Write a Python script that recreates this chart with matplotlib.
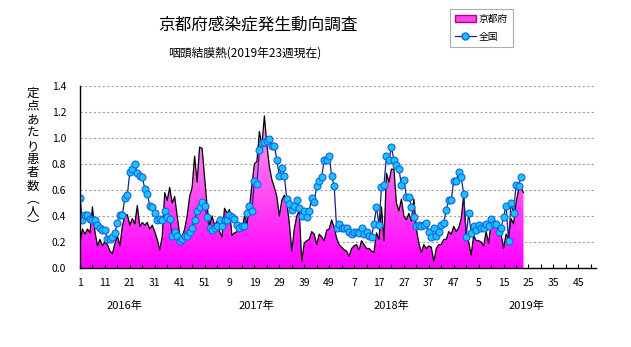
import numpy as np
import matplotlib.pyplot as plt
from matplotlib.colors import LinearSegmentedColormap
from matplotlib.lines import Line2D
from matplotlib.patches import Patch

plt.rcParams['font.family'] = ['Noto Sans CJK JP', 'DejaVu Sans']

# weekly sentinel rate (patients per sentinel), 2016 week 1 onward
kyoto = [
    # 2016
    0.20, 0.30, 0.26, 0.30, 0.27, 0.47, 0.28, 0.17, 0.22, 0.17,
    0.20, 0.18, 0.13, 0.11, 0.19, 0.25, 0.17, 0.32, 0.40, 0.41,
    0.33, 0.38, 0.34, 0.48, 0.32, 0.35, 0.33, 0.35, 0.30, 0.33,
    0.28, 0.22, 0.14, 0.24, 0.58, 0.52, 0.62, 0.50, 0.55, 0.40,
    0.26, 0.24, 0.30, 0.40, 0.55, 0.62, 0.86, 0.66, 0.93, 0.92,
    0.70, 0.48,
    # 2017
    0.32, 0.40, 0.33, 0.36, 0.28, 0.24, 0.46, 0.42, 0.45, 0.25,
    0.27, 0.28, 0.31, 0.29, 0.40, 0.34, 0.46, 0.64, 0.80, 0.82,
    1.05, 0.94, 1.17, 0.95, 0.78, 0.68, 0.62, 0.55, 0.40, 0.52,
    0.56, 0.50, 0.35, 0.13, 0.30, 0.40, 0.44, 0.05, 0.19, 0.21,
    0.22, 0.28, 0.26, 0.18, 0.26, 0.24, 0.21, 0.29, 0.30, 0.37,
    0.31, 0.23,
    # 2018
    0.18, 0.16, 0.14, 0.13, 0.09, 0.15, 0.17, 0.18, 0.14, 0.21,
    0.18, 0.15, 0.15, 0.13, 0.12, 0.27, 0.22, 0.47, 0.21, 0.73,
    0.66, 0.76, 0.76, 0.50, 0.44, 0.53, 0.40, 0.37, 0.42, 0.36,
    0.53, 0.30, 0.19, 0.12, 0.18, 0.15, 0.17, 0.16, 0.05, 0.15,
    0.18, 0.18, 0.22, 0.22, 0.28, 0.26, 0.32, 0.28, 0.31, 0.38,
    0.56, 0.26,
    # 2019
    0.20, 0.10, 0.25, 0.21, 0.21, 0.20, 0.17, 0.28, 0.19, 0.35,
    0.32, 0.33, 0.30, 0.26, 0.15, 0.26, 0.23, 0.38, 0.34, 0.50,
    0.60, 0.62, 0.58,
]

national = [
    # 2016
    0.54, 0.37, 0.41, 0.41, 0.38, 0.37, 0.37, 0.33, 0.31, 0.29,
    0.29, 0.22, 0.22, 0.24, 0.27, 0.35, 0.41, 0.41, 0.54, 0.56,
    0.74, 0.76, 0.80, 0.73, 0.71, 0.70, 0.61, 0.57, 0.48, 0.47,
    0.42, 0.37, 0.38, 0.37, 0.44, 0.39, 0.38, 0.25, 0.28, 0.25,
    0.21, 0.22, 0.25, 0.25, 0.28, 0.31, 0.37, 0.44, 0.47, 0.51,
    0.48, 0.39,
    # 2017
    0.31, 0.29, 0.31, 0.32, 0.37, 0.32, 0.37, 0.37, 0.41, 0.39,
    0.38, 0.33, 0.31, 0.32, 0.32, 0.42, 0.48, 0.44, 0.67, 0.65,
    0.91, 0.96, 0.97, 0.98, 0.99, 0.94, 0.94, 0.83, 0.71, 0.77,
    0.71, 0.53, 0.49, 0.45, 0.48, 0.52, 0.46, 0.40, 0.44, 0.39,
    0.44, 0.54, 0.51, 0.63, 0.67, 0.70, 0.83, 0.83, 0.86, 0.71,
    0.63, 0.31,
    # 2018
    0.34, 0.31, 0.31, 0.31, 0.28, 0.26, 0.28, 0.28, 0.27, 0.31,
    0.26, 0.28, 0.25, 0.24, 0.34, 0.47, 0.33, 0.62, 0.64, 0.86,
    0.83, 0.93, 0.83, 0.79, 0.76, 0.64, 0.68, 0.55, 0.55, 0.47,
    0.39, 0.32, 0.33, 0.32, 0.33, 0.35, 0.28, 0.24, 0.31, 0.25,
    0.28, 0.33, 0.35, 0.45, 0.52, 0.52, 0.67, 0.67, 0.74, 0.70,
    0.57, 0.24,
    # 2019
    0.42, 0.27, 0.32, 0.29, 0.33, 0.31, 0.31, 0.34, 0.32, 0.38,
    0.34, 0.34, 0.28, 0.31, 0.39, 0.48, 0.21, 0.50, 0.42, 0.64,
    0.63, 0.70,
]

years = ['2016年', '2017年', '2018年', '2019年']
weeks_per_year = 52
n_weeks = weeks_per_year * len(years)

x_k = np.arange(len(kyoto))
x_n = np.arange(len(national))

W, H = 631, 347
fig = plt.figure(figsize=(W / 100, H / 100), dpi=100)
ax = fig.add_axes([80 / W, 1 - 268 / H, 516 / W, 182 / H])

ax.set_xlim(0, n_weeks - 0.9)
ax.set_ylim(0, 1.4)

# magenta gradient area for Kyoto
cmap = LinearSegmentedColormap.from_list('kyoto', ['#ff00ff', '#ff55f2', '#f9a8ec'])
fill = ax.fill_between(x_k, kyoto, 0, facecolor='none', edgecolor='none')
grad = np.linspace(0, 1, 256).reshape(-1, 1)
img = ax.imshow(grad, cmap=cmap, origin='lower', aspect='auto',
                extent=[0, n_weeks, 0, 1.25], zorder=1)
img.set_clip_path(fill.get_paths()[0], transform=ax.transData)
ax.plot(x_k, kyoto, color='black', lw=0.9, zorder=2)

ax.plot(x_n, national, color='#1a237e', lw=0.9, marker='o', markersize=5,
        markerfacecolor='#19c3ff', markeredgecolor='#1565e0',
        markeredgewidth=0.8, zorder=3)

# grid
yt = np.arange(0, 1.41, 0.2)
ax.set_yticks(yt)
ax.set_yticklabels([f'{v:.1f}' for v in yt])
for v in yt[1:]:
    ax.axhline(v, color='#a0a0a0', lw=0.8, ls=(0, (2, 2)), zorder=0)

major = np.arange(0, n_weeks, 10)
ax.set_xticks(major)
ax.set_xticklabels([str(i % weeks_per_year + 1) for i in major])
ax.set_xticks(np.arange(5, n_weeks, 10), minor=True)
ax.tick_params(axis='x', which='both', direction='in', length=3, width=0.8,
               labelsize=7.5, pad=7)
ax.tick_params(axis='y', length=0, labelsize=7.5, pad=10)

for s in ['top', 'right']:
    ax.spines[s].set_visible(False)
for s in ['left', 'bottom']:
    ax.spines[s].set_linewidth(1.0)
    ax.spines[s].set_zorder(4)

# year captions under the week axis
year_x = [18, 71, 125, 179]
for xx, yr in zip(year_x, years):
    ax.text(xx, -0.29, yr, ha='center', va='center', fontsize=8,
            clip_on=False)

fig.text(258 / W, 1 - 25 / H, '京都府感染症発生動向調査', ha='center',
         va='center', fontsize=12)
fig.text(245 / W, 1 - 53 / H, '咽頭結膜熱(2019年23週現在)', ha='center',
         va='center', fontsize=8.5)

# vertical axis title, one character per row
ylab = '定点あたり患者数︵人︶'
for k, ch in enumerate(ylab):
    fig.text(33 / W, 1 - (93 + 13.3 * k) / H, ch, ha='center', va='center',
             fontsize=9)

handles = [
    Patch(facecolor='#ff44ee', edgecolor='#b0008c', label='京都府'),
    Line2D([], [], color='#1a237e', lw=0.9, marker='o', markersize=5,
           markerfacecolor='#19c3ff', markeredgecolor='#1565e0',
           label='全国'),
]
leg = fig.legend(handles=handles, loc='upper right',
                 bbox_to_anchor=(513 / W, 1 - 9 / H), fontsize=7,
                 frameon=True, fancybox=False, edgecolor='#999999',
                 borderpad=0.5, handlelength=2.2, handletextpad=0.3,
                 labelspacing=0.8, borderaxespad=0)
leg.get_frame().set_linewidth(0.8)

fig.savefig('out.png', dpi=100)
